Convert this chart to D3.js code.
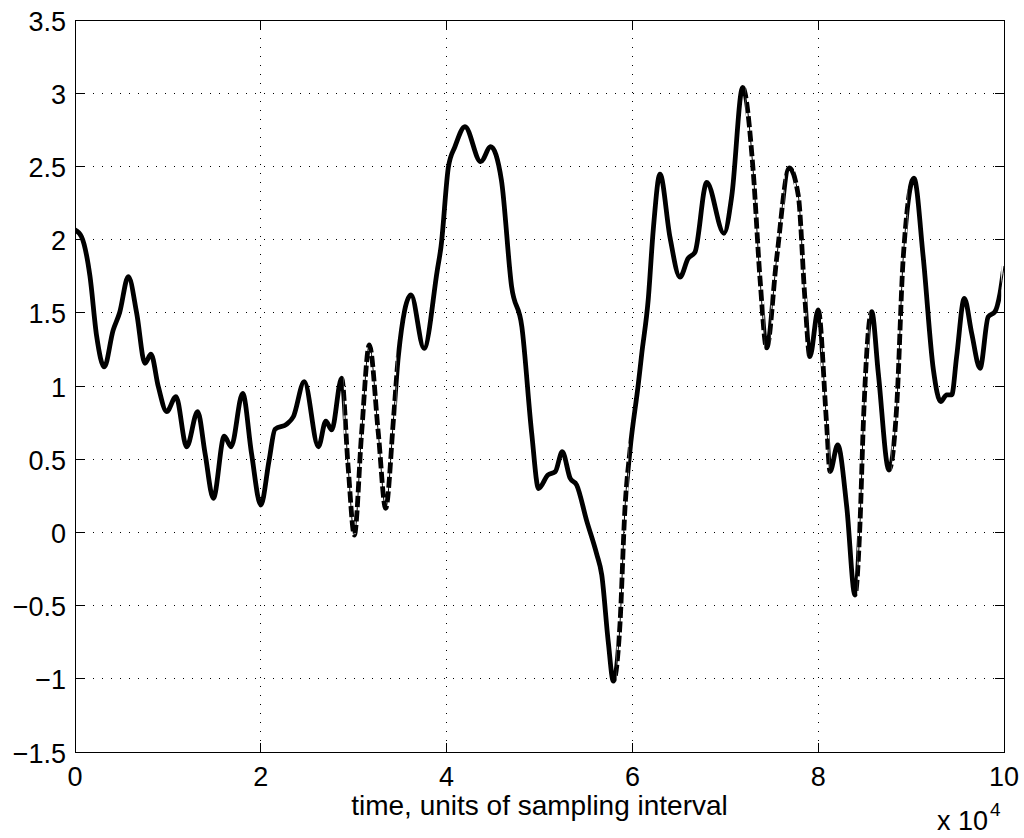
<!DOCTYPE html>
<html><head><meta charset="utf-8">
<script src="https://cdn.jsdelivr.net/npm/d3@7"></script>
<style>body{margin:0;background:#fff}</style>
</head><body><svg id="c" width="1024" height="838"></svg>
<script>
// time in samples
const sampleTimes = [0,700,1610,2330,3150,4100,4800,5740,6640,7530,8180,8970,9870,10870,12020,13200,14000,14890,16070,16800,18050,19000,20000,20900,21530,22800,23500,24680,26200,27000,27630,28700,29400,30070,30850,31680,32650,33440,34300,34800,36170,37570,39000,39400,40200,40900,41980,43670,44750,45900,47000,48100,49160,49900,50900,51700,52450,53300,54000,55080,56160,56700,57400,57950,58660,59200,59740,60640,61000,61700,62250,62970,64050,65120,66000,66740,68000,69860,70700,71870,73000,73740,74450,75530,76890,77860,78580,79100,80000,80900,81270,82100,83070,83960,84500,84860,85760,86470,87620,88450,89160,90310,91300,92400,93180,93830,94370,94900,95730,96520,97420,98300,99030,99570,100000];
const signalValues = [2.066,2.02,1.75,1.34,1.13,1.38,1.50,1.747,1.497,1.155,1.217,0.995,0.825,0.927,0.585,0.825,0.54,0.233,0.658,0.585,0.95,0.54,0.187,0.495,0.705,0.74,0.79,1.03,0.585,0.76,0.70,1.053,0.449,-0.018,0.677,1.28,0.677,0.164,0.79,1.20,1.622,1.257,1.792,1.952,2.498,2.635,2.771,2.532,2.635,2.407,1.678,1.405,0.677,0.30,0.392,0.415,0.551,0.37,0.324,0.079,-0.149,-0.29,-0.747,-1.016,-0.63,0.164,0.56,1.015,1.217,1.587,2.071,2.447,2.014,1.744,1.872,1.915,2.39,2.043,2.30,3.039,2.47,1.73,1.26,1.872,2.49,2.30,1.587,1.20,1.519,0.745,0.415,0.597,0.176,-0.428,0.061,0.745,1.508,1.087,0.426,0.859,1.883,2.419,1.883,1.11,0.893,0.939,0.939,1.20,1.599,1.36,1.121,1.473,1.508,1.633,1.82];
const dashedRanges = [[28900,34600],[58300,59600],[72200,74200],[74900,76400],[77400,78800],[80300,81200],[84200,85500],[87900,89600]];
const thickEnd = 99700;
const xTicks = [0,20000,40000,60000,80000,100000];
const yTicks = [-1.5,-1,-0.5,0,0.5,1,1.5,2,2.5,3,3.5];
const xLabelText = "time, units of sampling interval";

const L=75,R=1004,T=20,B=752;
const FONT = "'Liberation Sans', Arial, Helvetica, sans-serif";
const svg = d3.select("#c");
const x = d3.scaleLinear().domain([0,100000]).range([L,R]);
const y = d3.scaleLinear().domain([-1.5,3.5]).range([B,T]);
const data = sampleTimes.map((t,i)=>({t, v:signalValues[i]}));

// grid
const g = svg.append("g");
g.selectAll(".gx").data(xTicks.slice(1,-1)).enter().append("line")
  .attr("x1",d=>x(d)).attr("x2",d=>x(d)).attr("y1",T).attr("y2",B)
  .attr("stroke","#000").attr("stroke-width",1).attr("stroke-dasharray","1,8")
  .attr("shape-rendering","crispEdges");
g.selectAll(".gy").data(yTicks.slice(1,-1)).enter().append("line")
  .attr("y1",d=>y(d)).attr("y2",d=>y(d)).attr("x1",L).attr("x2",R)
  .attr("stroke","#000").attr("stroke-width",1).attr("stroke-dasharray","1,8")
  .attr("shape-rendering","crispEdges");

// clip paths
const defs = svg.append("defs");
const solidIntervals = [];
let start = 0;
dashedRanges.forEach(([a,b])=>{ solidIntervals.push([start,a]); start=b; });
solidIntervals.push([start, thickEnd]);
const cs = defs.append("clipPath").attr("id","solidClip");
cs.selectAll("rect").data(solidIntervals).enter().append("rect")
  .attr("x",d=>x(d[0])).attr("width",d=>x(d[1])-x(d[0])).attr("y",0).attr("height",838);
const cd = defs.append("clipPath").attr("id","dashClip");
cd.selectAll("rect").data(dashedRanges).enter().append("rect")
  .attr("x",d=>x(d[0])).attr("width",d=>x(d[1])-x(d[0])).attr("y",0).attr("height",838);
defs.append("clipPath").attr("id","plotClip").append("rect")
  .attr("x",L).attr("y",T).attr("width",R-L).attr("height",B-T);

const line = d3.line().x(d=>x(d.t)).y(d=>y(d.v)).curve(d3.curveMonotoneX);
const pg = svg.append("g").attr("clip-path","url(#plotClip)");
pg.append("path").datum(data).attr("d",line).attr("fill","none")
  .attr("stroke","#000").attr("stroke-width",1);
pg.append("g").attr("clip-path","url(#solidClip)").append("path").datum(data).attr("d",line)
  .attr("fill","none").attr("stroke","#000").attr("stroke-width",4.8).attr("stroke-linejoin","round");
pg.append("g").attr("clip-path","url(#dashClip)").append("path").datum(data).attr("d",line)
  .attr("fill","none").attr("stroke","#000").attr("stroke-width",4.8).attr("stroke-dasharray","11,3.5");

// axes box with inward ticks
const tl = 9;
const ax = svg.append("g").attr("stroke","#000").attr("stroke-width",1).attr("shape-rendering","crispEdges");
ax.append("rect").attr("x",L).attr("y",T).attr("width",R-L).attr("height",B-T).attr("fill","none");
xTicks.forEach(d=>{
  ax.append("line").attr("x1",x(d)).attr("x2",x(d)).attr("y1",B).attr("y2",B-tl);
  ax.append("line").attr("x1",x(d)).attr("x2",x(d)).attr("y1",T).attr("y2",T+tl);
});
yTicks.forEach(d=>{
  ax.append("line").attr("y1",y(d)).attr("y2",y(d)).attr("x1",L).attr("x2",L+tl);
  ax.append("line").attr("y1",y(d)).attr("y2",y(d)).attr("x1",R).attr("x2",R-tl);
});

// labels
const fs = 27;
svg.selectAll(".xl").data(xTicks).enter().append("text")
  .attr("x",d=>x(d)).attr("y",B+34).attr("text-anchor","middle")
  .attr("font-family",FONT).attr("font-size",fs).text(d=>d3.format("d")(d/1e4));
svg.selectAll(".yl").data(yTicks).enter().append("text")
  .attr("x",L-9).attr("y",d=>y(d)+10.5).attr("text-anchor","end")
  .attr("font-family",FONT).attr("font-size",fs).text(d=>(d<0?"\u2212":"")+d3.format("")(Math.abs(d)));
svg.append("text").attr("x",(L+R)/2).attr("y",815).attr("text-anchor","middle")
  .attr("font-family",FONT).attr("font-size",28).text(xLabelText);
const ex = svg.append("text").attr("x",937).attr("y",830).attr("font-family",FONT).attr("font-size",fs);
ex.append("tspan").text("x 10");
ex.append("tspan").attr("dx",2).attr("dy",-14).attr("font-size",19).text("4");
</script></body></html>
